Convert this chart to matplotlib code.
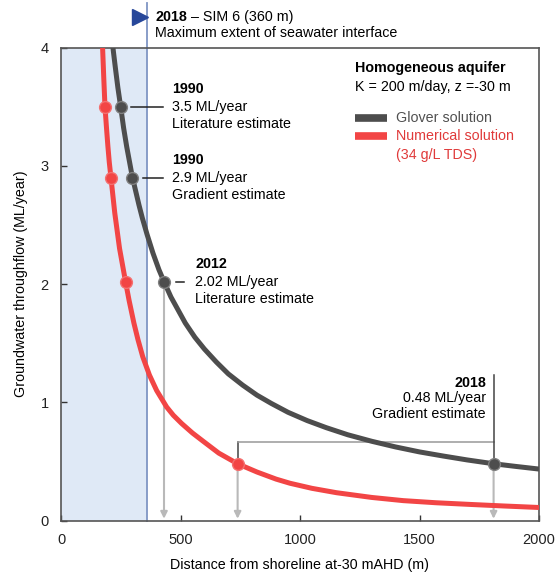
import matplotlib
matplotlib.use("Agg")
import matplotlib.pyplot as plt

plt.rcParams['font.family'] = ['Liberation Sans', 'DejaVu Sans']

# ---- data ----
glover_x = [212, 219, 228, 238, 251, 262, 275, 287, 298, 312, 326, 340, 360, 385, 410, 431, 460, 490,
            520, 560, 600, 650, 700, 760, 820, 880, 950, 1030, 1110, 1200, 1300, 1400, 1500, 1600,
            1700, 1810, 1900, 2000]
glover_y = [4.10, 3.97, 3.82, 3.66, 3.48, 3.32, 3.16, 3.03, 2.91, 2.79, 2.67, 2.56, 2.42, 2.26, 2.12,
            2.02, 1.89, 1.78, 1.67, 1.55, 1.45, 1.34, 1.24, 1.145, 1.06, 0.99, 0.915, 0.845, 0.785,
            0.725, 0.67, 0.622, 0.58, 0.545, 0.512, 0.48, 0.458, 0.435]

red_x = [172, 174, 179, 184, 190, 196, 202, 209, 225, 245, 270, 285, 305, 322, 342, 370, 400, 442,
         470, 505, 550, 595, 660, 739, 820, 900, 958, 1050, 1153, 1300, 1432, 1570, 1711, 1850, 2000]
red_y = [4.10, 4.0, 3.74, 3.5, 3.33, 3.17, 3.03, 2.9, 2.6, 2.3, 2.02, 1.86, 1.67, 1.53, 1.385, 1.23,
         1.10, 0.96, 0.89, 0.82, 0.74, 0.67, 0.57, 0.48, 0.41, 0.35, 0.315, 0.272, 0.235, 0.195,
         0.168, 0.15, 0.136, 0.123, 0.11]

glover_pts_x = [251, 298, 431, 1810]
glover_pts_y = [3.5, 2.9, 2.02, 0.48]
red_pts_x = [184, 209, 270, 739]
red_pts_y = [3.5, 2.9, 2.02, 0.48]

interface_x = 360

years = ["1990", "1990", "2012", "2018"]
rates = ["3.5 ML/year", "2.9 ML/year", "2.02 ML/year", "0.48 ML/year"]
kinds = ["Literature estimate", "Gradient estimate", "Literature estimate", "Gradient estimate"]

x_ticks = [0, 500, 1000, 1500, 2000]
y_ticks = [0, 1, 2, 3, 4]

# ---- style ----
GREY = "#4d4d4d"
RED = "#f24545"
FS = 10.3

fig = plt.figure(figsize=(5.56, 5.73), dpi=100)
ax = fig.add_axes([61 / 556, 1 - 520.5 / 573, 478 / 556, 473 / 573])
ax.set_xlim(0, 2000)
ax.set_ylim(0, 4)

ax.axvspan(0, interface_x, color="#dfe9f6", zorder=0, lw=0)
ax.plot([interface_x, interface_x], [0, 4.38], color="#7f95c4", lw=1.3, clip_on=False, zorder=1)
ax.plot([330], [4.26], marker=">", ms=11, color="#27479a", clip_on=False, zorder=5)

t1 = ax.text(395, 4.26, "2018", fontsize=FS, fontweight="bold", va="center", ha="left")
ax.annotate(" – SIM 6 (360 m)", xy=(1, 0.5), xycoords=t1, fontsize=FS, va="center", ha="left")
ax.text(395, 4.12, "Maximum extent of seawater interface", fontsize=FS, va="center", ha="left")

# grey arrows down to axis
arrow_xs = [glover_pts_x[2], red_pts_x[3], glover_pts_x[3]]
arrow_ys = [glover_pts_y[2], red_pts_y[3], glover_pts_y[3]]
for ax_x, ax_y in zip(arrow_xs, arrow_ys):
    ax.annotate("", xy=(ax_x, 0.015), xytext=(ax_x, ax_y),
                arrowprops=dict(arrowstyle="-|>", color="#b9b9b9", lw=1.5,
                                mutation_scale=10, shrinkA=0, shrinkB=0), zorder=1)

# bracket
ax.plot([red_pts_x[3], red_pts_x[3]], [red_pts_y[3], 0.664], color="#444444", lw=1.1, zorder=2)
ax.plot([red_pts_x[3], glover_pts_x[3]], [0.664, 0.664], color="#999999", lw=1.1, zorder=2)
ax.plot([glover_pts_x[3], glover_pts_x[3]], [glover_pts_y[3], 1.23], color="#444444", lw=1.1, zorder=2)

# curves
ax.plot(red_x, red_y, color=RED, lw=3.6, solid_capstyle="butt", solid_joinstyle="round", zorder=3)
ax.plot(glover_x, glover_y, color=GREY, lw=3.6, solid_capstyle="butt", solid_joinstyle="round", zorder=3)
ax.plot(red_pts_x, red_pts_y, "o", color=RED, ms=8.5, mec="#f47070", mew=1, zorder=4)
ax.plot(glover_pts_x, glover_pts_y, "o", color=GREY, ms=8.5, mec="#808080", mew=1, zorder=4)

# leader lines and labels
leaders = [(292, 428), (344, 428), (482, 516)]
text_x = [464, 464, 561]
for i in range(3):
    ax.plot(leaders[i], [glover_pts_y[i], glover_pts_y[i]], color="#222222", lw=1.1, zorder=2)
    yc = glover_pts_y[i]
    ax.text(text_x[i], yc + 0.145, years[i], fontsize=FS, fontweight="bold", va="center", ha="left")
    ax.text(text_x[i], yc, rates[i], fontsize=FS, va="center", ha="left")
    ax.text(text_x[i], yc - 0.145, kinds[i], fontsize=FS, va="center", ha="left")

ax.text(1778, 1.165, years[3], fontsize=FS, fontweight="bold", va="center", ha="right")
ax.text(1778, 1.033, rates[3], fontsize=FS, va="center", ha="right")
ax.text(1778, 0.90, kinds[3], fontsize=FS, va="center", ha="right")

# legend-like text block
ax.text(1230, 3.827, "Homogeneous aquifer", fontsize=FS, fontweight="bold", va="center", ha="left")
ax.text(1230, 3.666, "K = 200 m/day, z =-30 m", fontsize=FS, va="center", ha="left")
ax.plot([1230, 1365], [3.404, 3.404], color=GREY, lw=5.5, solid_capstyle="butt")
ax.plot([1230, 1365], [3.25, 3.25], color=RED, lw=5.5, solid_capstyle="butt")
ax.text(1402, 3.404, "Glover solution", fontsize=FS, va="center", ha="left", color="#505050")
ax.text(1402, 3.25, "Numerical solution", fontsize=FS, va="center", ha="left", color="#e03a3a")
ax.text(1402, 3.09, "(34 g/L TDS)", fontsize=FS, va="center", ha="left", color="#e03a3a")

# axes styling
for s in ax.spines.values():
    s.set_color("#555555")
    s.set_linewidth(1.2)
ax.set_xticks(x_ticks)
ax.set_yticks(y_ticks)
ax.set_xticklabels([str(v) for v in x_ticks])
ax.set_yticklabels([str(v) for v in y_ticks])
ax.tick_params(direction="in", length=4, width=1, color="#333333", labelsize=FS + 0.2, pad=9,
               labelcolor="#222222")
ax.set_xlabel("Distance from shoreline at-30 mAHD (m)", fontsize=FS, labelpad=8)
ax.set_ylabel("Groundwater throughflow (ML/year)", fontsize=FS, labelpad=9)

fig.savefig("out.png", dpi=100)
